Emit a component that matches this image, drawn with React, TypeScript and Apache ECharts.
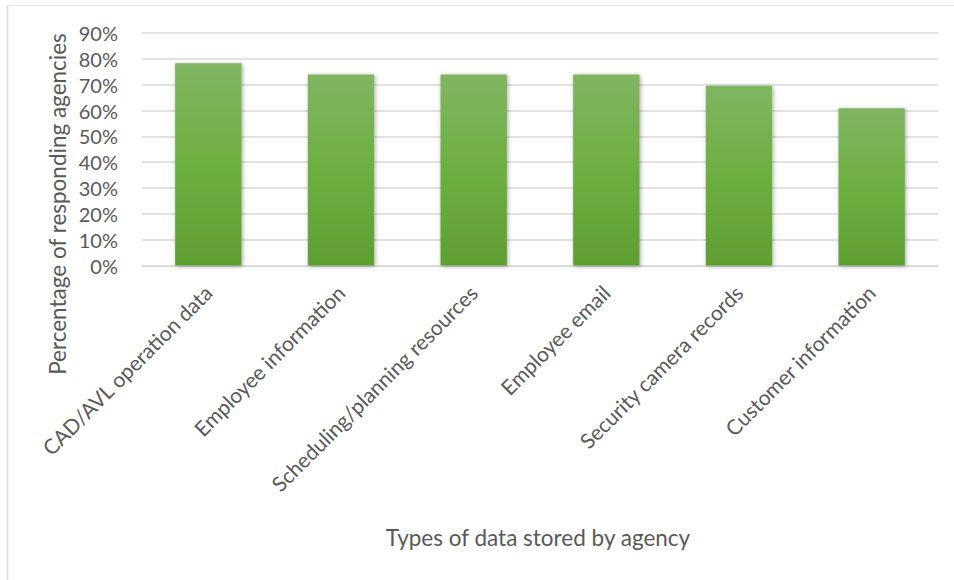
import React, { useEffect, useRef } from "react";
import * as echarts from "echarts";

const categories = [
  "CAD/AVL operation data",
  "Employee information",
  "Scheduling/planning resources",
  "Employee email",
  "Security camera records",
  "Customer information",
];
const values = [0.783, 0.739, 0.739, 0.739, 0.696, 0.609];
const yAxisTitle = "Percentage of responding agencies";
const xAxisTitle = "Types of data stored by agency";

const FONT = "Lato";
const TEXT = "#595959";

export default function App() {
  const ref = useRef<HTMLDivElement>(null);
  useEffect(() => {
    if (!ref.current) return;
    const chart = echarts.init(ref.current, null, { renderer: "svg" });
    chart.setOption({
      animation: false,
      backgroundColor: "#fff",
      textStyle: { fontFamily: FONT },
      grid: { left: 142, right: 16, top: 33, bottom: 314.5 },
      xAxis: {
        type: "category",
        data: categories,
        axisTick: { show: false },
        axisLine: { show: true, lineStyle: { color: "#d9d9d9", width: 1.5 } },
        axisLabel: {
          rotate: 45,
          interval: 0,
          margin: 8,
          padding: [0, 11, 0, 0],
          verticalAlign: "top",
          color: TEXT,
          fontSize: 21,
          fontFamily: FONT,
        },
      },
      yAxis: {
        type: "value",
        min: 0,
        max: 0.9,
        interval: 0.1,
        axisLine: { show: false },
        axisTick: { show: false },
        splitLine: { lineStyle: { color: "#d9d9d9", width: 1.5 } },
        axisLabel: {
          margin: 24,
          color: TEXT,
          fontSize: 20,
          fontFamily: FONT,
          formatter: (v: number) => Math.round(v * 100) + "%",
        },
      },
      series: [
        {
          type: "bar",
          data: values,
          barWidth: "50%",
          itemStyle: {
            color: new echarts.graphic.LinearGradient(0, 0, 0, 1, [
              { offset: 0, color: "#80b562" },
              { offset: 0.5, color: "#6caf40" },
              { offset: 1, color: "#5f9e32" },
            ]),
            shadowBlur: 4,
            shadowColor: "rgba(0,0,0,0.35)",
            shadowOffsetX: 1,
            shadowOffsetY: 1,
          },
        },
      ],
      graphic: [
        {
          type: "line",
          shape: { x1: 7.5, y1: 5.5, x2: 954, y2: 5.5 },
          style: { stroke: "#e6e6e6", lineWidth: 1 },
          silent: true,
        },
        {
          type: "line",
          shape: { x1: 7.5, y1: 5.5, x2: 7.5, y2: 580 },
          style: { stroke: "#dcdcdc", lineWidth: 1.5 },
          silent: true,
        },
        {
          type: "text",
          x: 57,
          y: 204,
          rotation: Math.PI / 2,
          style: {
            text: yAxisTitle,
            fill: TEXT,
            fontSize: 22.5,
            fontFamily: FONT,
            align: "center",
            verticalAlign: "middle",
          },
        },
        {
          type: "text",
          x: 538,
          y: 537,
          style: {
            text: xAxisTitle,
            fill: TEXT,
            fontSize: 22.5,
            fontFamily: FONT,
            align: "center",
            verticalAlign: "middle",
          },
        },
      ],
    });
    return () => chart.dispose();
  }, []);
  return (
    <div
      ref={ref}
      style={{ position: "absolute", left: 0, top: 0, width: 954, height: 580 }}
    />
  );
}
